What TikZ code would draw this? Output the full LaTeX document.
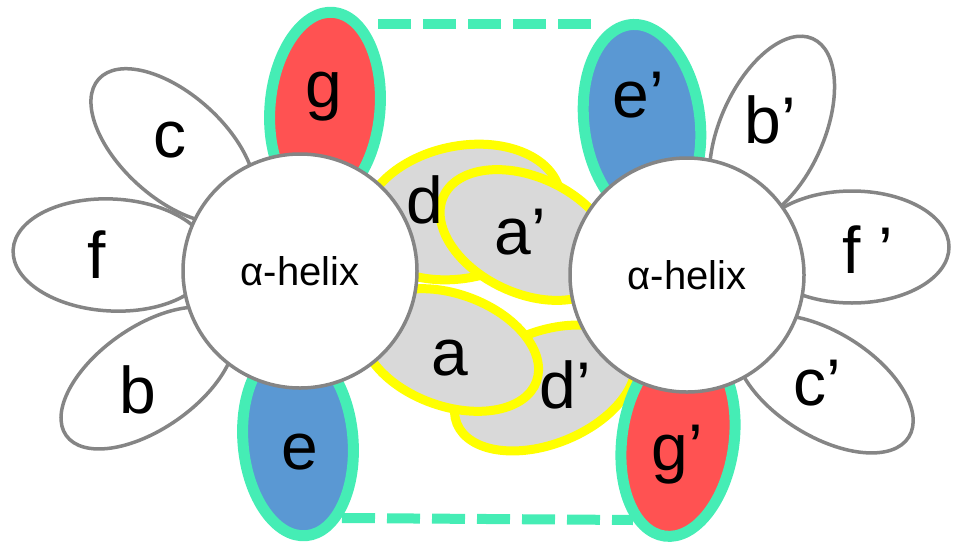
\documentclass[tikz,border=0pt]{standalone}
\usepackage{fontspec}
\setmainfont{Liberation Sans}
\definecolor{outl}{RGB}{133,133,133}
\definecolor{turq}{RGB}{69,237,181}
\definecolor{redf}{RGB}{255,82,82}
\definecolor{bluef}{RGB}{90,152,211}
\definecolor{grayf}{RGB}{217,217,217}
\definecolor{yel}{RGB}{255,255,0}
\tikzset{
  petal/.style={draw=outl, fill=white, line width=3.5pt},
  redell/.style={draw=turq, fill=redf, line width=11pt},
  blueell/.style={draw=turq, fill=bluef, line width=11pt},
  yelell/.style={draw=yel, fill=grayf, line width=9pt},
  helix/.style={circle, draw=outl, fill=white, line width=3.5pt, minimum size=234pt, inner sep=0pt, font=\fontsize{40}{42}\selectfont},
  lbl/.style={inner sep=0pt, font=\fontsize{66}{70}\selectfont},
  dashline/.style={draw=turq, line width=10pt, dash pattern=on 33pt off 12pt}
}
\begin{document}
\begin{tikzpicture}[x=1pt,y=-1pt]
\useasboundingbox (0,0) rectangle (953,544);
% petals
\path[petal, rotate around={-42:(173,146)}] (173,146) ellipse [x radius=100pt, y radius=52pt];
\path[petal, rotate around={-3:(112,255)}] (112,255) ellipse [x radius=99pt, y radius=56pt];
\path[petal, rotate around={35:(148,378)}] (148,378) ellipse [x radius=100pt, y radius=51pt];
\path[petal, rotate around={66:(772,130)}] (772,130) ellipse [x radius=100pt, y radius=52pt];
\path[petal] (852,247) ellipse [x radius=97pt, y radius=56pt];
\path[petal, rotate around={-32:(824,384)}] (824,384) ellipse [x radius=100pt, y radius=52pt];
% yellow
\path[yelell, rotate around={12:(462,212)}] (462,212) ellipse [x radius=100pt, y radius=66pt];
\path[yelell, rotate around={-25:(527,235)}] (527,235) ellipse [x radius=92pt, y radius=58pt];
\path[yelell, rotate around={22:(545,388)}] (545,388) ellipse [x radius=95pt, y radius=56pt];
\path[yelell, rotate around={-20:(450,350)}] (450,350) ellipse [x radius=92pt, y radius=56pt];
% coloured
\path[redell, rotate around={85:(325,108)}] (325,108) ellipse [x radius=96pt, y radius=55pt];
\path[blueell, rotate around={95:(298,441)}] (298,441) ellipse [x radius=95pt, y radius=55pt];
\path[blueell, rotate around={97:(642,122)}] (642,122) ellipse [x radius=98pt, y radius=58pt];
\path[redell, rotate around={82:(678,440)}] (678,440) ellipse [x radius=97pt, y radius=56pt];
% circles
\node[helix] (L) at (300,271) {α-helix};
\node[helix] (R) at (687,275) {α-helix};
% dashed lines
\coordinate (t1) at (378,24);
\coordinate (t2) at (592,24);
\coordinate (b1) at (342,518);
\coordinate (b2) at (633,520);
\draw[dashline] (t1) -- (t2);
\draw[dashline] (b1) -- (b2);
% labels
\node[lbl] (lc) at (170,140) {c};
\node[lbl] (lf) at (97,255) {f};
\node[lbl] (lb) at (138,390) {b};
\node[lbl] (lg) at (324,97) {g};
\node[lbl] (le) at (300,452) {e};
\node[lbl] (ld) at (425,200) {d};
\node[lbl] (lap) at (520,232) {a’};
\node[lbl] (la) at (450,358) {a};
\node[lbl] (ldp) at (565,385) {d’};
\node[lbl] (lep) at (638,95) {e’};
\node[lbl] (lbp) at (770,120) {b’};
\node[lbl] (lfp) at (868,250) {f ’};
\node[lbl] (lcp) at (817,383) {c’};
\node[lbl] (lgp) at (677,455) {g’};
\end{tikzpicture}
\end{document}
